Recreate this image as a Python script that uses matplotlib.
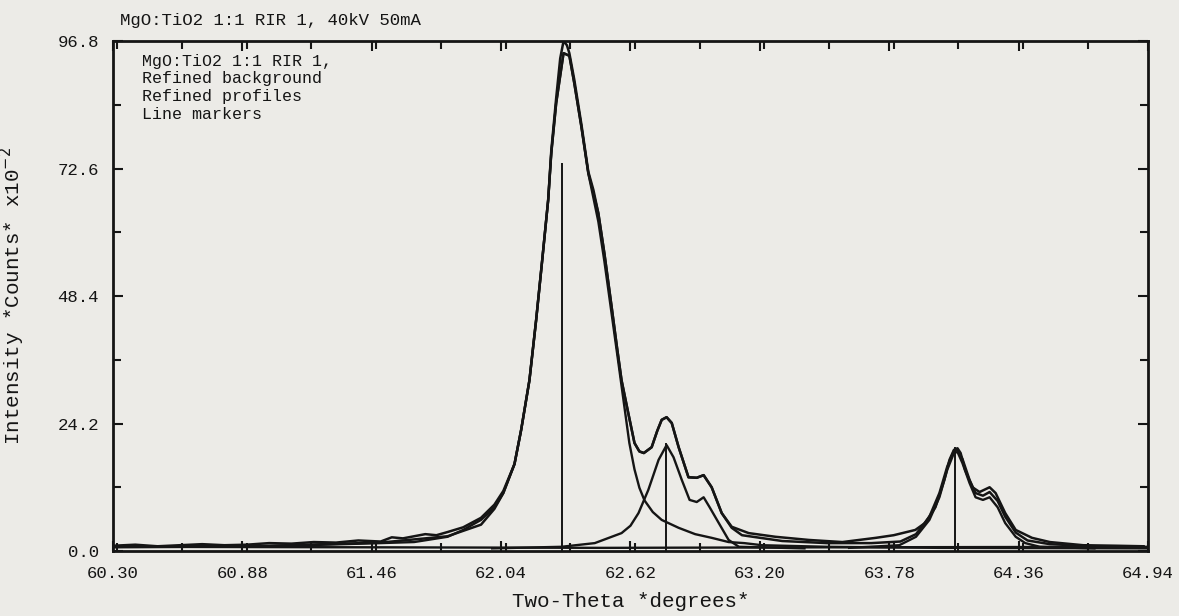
import matplotlib
matplotlib.use("Agg")
import matplotlib.pyplot as plt
from matplotlib.ticker import MultipleLocator, FixedLocator

# observed pattern (two-theta, counts x1e-2)
obs_x = [60.30, 60.40, 60.50, 60.60, 60.70, 60.80, 60.90, 61.00, 61.10, 61.20,
         61.30, 61.40, 61.50, 61.55, 61.60, 61.65, 61.70, 61.75, 61.80, 61.87,
         61.95, 62.01, 62.05, 62.10, 62.13, 62.167, 62.197, 62.225, 62.251, 62.265,
         62.287, 62.305, 62.32, 62.335, 62.346, 62.368, 62.40, 62.431, 62.454, 62.476,
         62.503, 62.535, 62.56, 62.58, 62.61, 62.638, 62.66, 62.68, 62.715, 62.74,
         62.76, 62.782, 62.805, 62.836, 62.88, 62.917, 62.948, 62.984, 63.029, 63.074,
         63.15, 63.27, 63.42, 63.57, 63.72, 63.80, 63.897, 63.94, 63.987, 64.027,
         64.05, 64.07, 64.086, 64.10, 64.12, 64.153, 64.185, 64.23, 64.257, 64.30,
         64.347, 64.42, 64.50, 64.65, 64.80, 64.92]
obs_y = [1.0, 1.2, 0.9, 1.1, 1.3, 1.1, 1.2, 1.5, 1.4, 1.7,
         1.6, 2.0, 1.8, 2.6, 2.4, 2.8, 3.2, 3.0, 3.6, 4.5,
         6.3, 8.8, 11.4, 16.5, 23.0, 32.4, 43.8, 55.5, 66.6, 76.0,
         86.0, 93.5, 96.8, 96.0, 94.5, 89.5, 81.0, 72.0, 68.5, 64.1,
         56.5, 46.5, 38.5, 32.4, 26.2, 20.5, 18.9, 18.6, 19.7, 22.8,
         24.9, 25.4, 24.3, 19.7, 14.0, 13.9, 14.4, 12.1, 7.2, 4.6,
         3.4, 2.7, 2.1, 1.7, 2.5, 3.0, 4.0, 5.3, 8.3, 13.5,
         17.3, 19.2, 19.5, 18.6, 15.4, 12.1, 11.2, 12.1, 11.0, 7.2,
         4.0, 2.5, 1.7, 1.1, 1.0, 0.9]

# calculated total profile
calc_x = [60.30, 61.00, 61.50, 61.80, 61.95, 62.01, 62.05, 62.10, 62.13, 62.167,
          62.197, 62.225, 62.251, 62.265, 62.287, 62.32, 62.346, 62.368, 62.40, 62.431,
          62.454, 62.476, 62.503, 62.535, 62.56, 62.58, 62.61, 62.638, 62.66, 62.68,
          62.715, 62.74, 62.76, 62.782, 62.805, 62.836, 62.88, 62.917, 62.948, 62.984,
          63.029, 63.074, 63.12, 63.30, 63.50, 63.70, 63.83, 63.90, 63.96, 64.005,
          64.04, 64.07, 64.086, 64.108, 64.14, 64.167, 64.20, 64.23, 64.266, 64.30,
          64.347, 64.40, 64.50, 64.70, 64.92]
calc_y = [0.8, 1.0, 1.6, 2.8, 5.0, 8.0, 11.0, 16.5, 23.0, 32.4,
          43.8, 55.5, 66.6, 75.5, 85.0, 94.5, 94.0, 88.8, 80.5, 71.7,
          67.9, 64.1, 56.5, 46.5, 38.5, 32.4, 26.2, 20.5, 18.9, 18.6,
          19.7, 22.8, 24.9, 25.4, 24.3, 19.7, 14.0, 13.9, 14.4, 12.1,
          7.2, 4.4, 3.0, 1.9, 1.5, 1.5, 1.8, 3.2, 6.5, 11.0,
          16.0, 19.0, 19.2, 17.5, 13.5, 11.0, 10.5, 11.2, 9.5, 6.5,
          3.5, 2.0, 1.3, 0.9, 0.8]

# individual refined profiles
p1_x = [60.30, 61.00, 61.50, 61.65, 61.80, 61.87, 61.95, 62.01, 62.05, 62.10,
        62.13, 62.167, 62.197, 62.225, 62.251, 62.265, 62.287, 62.32, 62.346, 62.368,
        62.40, 62.431, 62.454, 62.476, 62.503, 62.535, 62.565, 62.593, 62.615, 62.638,
        62.66, 62.683, 62.72, 62.76, 62.836, 62.91, 62.984, 63.06, 63.13, 63.21,
        63.50, 64.00, 64.94]
p1_y = [0.7, 0.9, 1.5, 1.7, 2.7, 4.0, 5.9, 8.3, 11.0, 16.5,
        23.0, 32.4, 43.8, 55.5, 66.6, 75.5, 85.0, 94.5, 94.0, 88.8,
        80.5, 71.7, 67.0, 62.5, 55.0, 45.2, 36.0, 27.3, 20.5, 15.5,
        12.0, 9.6, 7.4, 5.9, 4.4, 3.2, 2.5, 1.7, 1.5, 1.1,
        0.8, 0.6, 0.5]

p2_x = [62.00, 62.31, 62.46, 62.58, 62.62, 62.656, 62.70, 62.746, 62.782, 62.813,
        62.85, 62.885, 62.917, 62.948, 62.975, 63.016, 63.06, 63.106, 63.40]
p2_y = [0.5, 0.8, 1.5, 3.4, 4.8, 7.2, 11.6, 17.3, 20.1, 17.8,
        13.5, 9.7, 9.3, 10.2, 8.3, 5.3, 2.1, 0.8, 0.5]

p3_x = [63.60, 63.825, 63.90, 63.96, 64.005, 64.04, 64.07, 64.086, 64.108, 64.14,
        64.167, 64.20, 64.23, 64.266, 64.30, 64.347, 64.39, 64.455, 64.70]
p3_y = [0.6, 1.1, 2.7, 5.9, 10.2, 15.4, 18.6, 18.8, 16.7, 12.9,
        10.2, 9.7, 10.2, 8.3, 5.3, 2.7, 1.5, 0.8, 0.5]

# refined background
bg_x = [60.30, 61.50, 62.50, 63.50, 64.94]
bg_y = [0.8, 0.7, 0.6, 0.7, 0.8]

# line markers
mark_x = [62.313, 62.778, 64.077]
mark_y = [73.6, 20.5, 19.7]

x_ticks = [60.30, 60.88, 61.46, 62.04, 62.62, 63.20, 63.78, 64.36, 64.94]
y_ticks = [0.0, 24.2, 48.4, 72.6, 96.8]

mono = "Liberation Mono"
ink = "#151515"
paper = "#ecebe7"

fig = plt.figure(figsize=(11.79, 6.16), dpi=100, facecolor=paper)
ax = fig.add_axes([0.0958, 0.1055, 0.8779, 0.8279], facecolor=paper)

ax.plot(obs_x, obs_y, color=ink, lw=1.8)
ax.plot(calc_x, calc_y, color=ink, lw=1.8)
ax.plot(p1_x, p1_y, color=ink, lw=1.7)
ax.plot(p2_x, p2_y, color=ink, lw=1.7)
ax.plot(p3_x, p3_y, color=ink, lw=1.7)
ax.plot(bg_x, bg_y, color=ink, lw=1.7)
ax.vlines(mark_x, 0, mark_y, color=ink, lw=1.4)

ax.set_xlim(x_ticks[0], x_ticks[-1])
ax.set_ylim(y_ticks[0], y_ticks[-1])
ax.xaxis.set_major_locator(FixedLocator(x_ticks))
ax.xaxis.set_minor_locator(MultipleLocator(0.29))
ax.yaxis.set_major_locator(FixedLocator(y_ticks))
ax.yaxis.set_minor_locator(MultipleLocator(12.1))
ax.set_xticklabels([f"{v:.2f}" for v in x_ticks])
ax.set_yticklabels([f"{v:.1f}" for v in y_ticks])

ax.tick_params(which="both", direction="in", top=True, right=True,
               color=ink, width=1.5)
ax.tick_params(which="major", length=7)
ax.tick_params(which="minor", length=6)
ax.tick_params(axis="x", pad=11)
ax.tick_params(axis="y", pad=10)
for lab in ax.get_xticklabels() + ax.get_yticklabels():
    lab.set_fontfamily(mono)
    lab.set_fontsize(12.5)
    lab.set_color(ink)
for sp in ax.spines.values():
    sp.set_linewidth(2)
    sp.set_color(ink)

ax.set_xlabel("Two-Theta *degrees*", fontfamily=mono, fontsize=15,
              color=ink, labelpad=8)
ax.set_ylabel("Intensity *Counts* x10$^{-2}$", fontfamily=mono, fontsize=15,
              color=ink)
ax.yaxis.set_label_coords(-0.083, 0.5)

fig.text(0.102, 0.967, "MgO:TiO2 1:1 RIR 1, 40kV 50mA", fontfamily=mono,
         fontsize=12.5, color=ink, va="center", ha="left")
ax.text(0.028, 0.975,
        "MgO:TiO2 1:1 RIR 1,\nRefined background\nRefined profiles\nLine markers",
        transform=ax.transAxes, fontfamily=mono, fontsize=12, color=ink,
        va="top", ha="left", linespacing=1.22)

fig.savefig("out.png", dpi=100, facecolor=paper)
